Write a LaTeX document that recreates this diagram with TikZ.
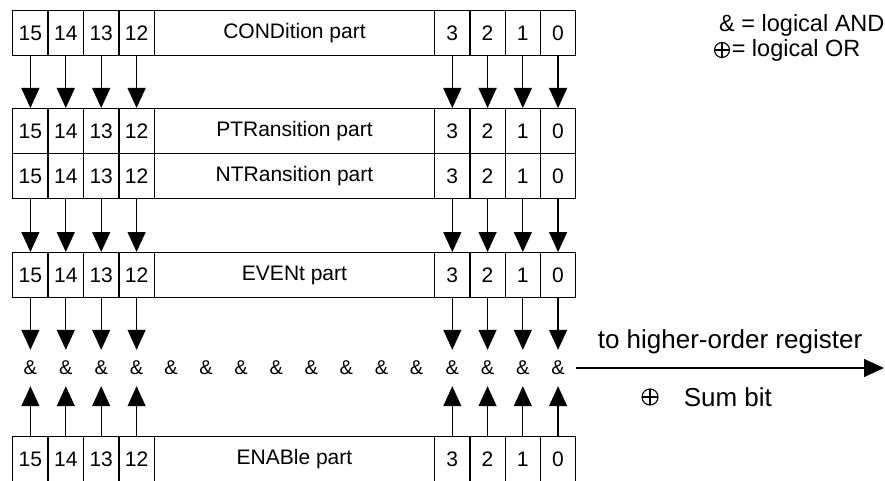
\documentclass[tikz,border=0pt]{standalone}
\usepackage{fontspec}
\setmainfont{Liberation Sans}
\usetikzlibrary{arrows.meta,positioning}

\tikzset{
  cell/.style={draw, line width=1.4pt, anchor=north west, minimum width=35.4pt, minimum height=45pt, inner sep=0pt, font=\fontsize{21}{25}\selectfont},
  bitarrow/.style={line width=1.3pt, -{Triangle[width=18pt,length=20pt]}},
  andsym/.style={inner sep=0pt, minimum width=35pt, minimum height=36pt, font=\fontsize{20}{24}\selectfont},
  orsym/.style={circle, draw, line width=1.1pt, minimum size=#1, inner sep=0pt,
    path picture={\draw[line width=1.1pt] (path picture bounding box.north) -- (path picture bounding box.south)
      (path picture bounding box.west) -- (path picture bounding box.east);}},
  biglabel/.style={inner sep=0pt, font=\fontsize{26}{30}\selectfont},
  legend/.style={inner sep=0pt, anchor=west, font=\fontsize{23.5}{28}\selectfont},
}
\newcommand{\regrow}[3]{%
  \foreach \b [count=\i from 0] in {15,14,13,12}
    \node[cell] (#1-\b) at ({12+35.4*\i},#2) {\b};
  \node[cell, minimum width=280.4pt] (#1-mid) at (153.6,#2) {#3};
  \foreach \b [count=\i from 0] in {3,2,1,0}
    \node[cell, minimum width=35.25pt] (#1-\b) at ({434+35.25*\i},#2) {\b};
}

\begin{document}
\begin{tikzpicture}[x=1pt, y=-1pt]
\useasboundingbox (0,0) rectangle (885,481);
\regrow{con}{10}{CONDition part}
\regrow{ptr}{108}{PTRansition part}
\regrow{ntr}{153}{NTRansition part}
\regrow{eve}{252}{EVENt part}
\regrow{ena}{436}{ENABle part}

\foreach \b in {15,14,13,12,3,2,1,0} {
  \draw[bitarrow] (con-\b) -- (ptr-\b);
  \draw[bitarrow] (ntr-\b) -- (eve-\b);
}

\coordinate (androw) at (0,368);
\foreach \b in {15,14,13,12,3,2,1,0}
  \node[andsym] (and-\b) at (eve-\b |- androw) {\&};
\foreach \b in {11,...,4}
  \node[andsym] (and-\b) at ({135.9+35.08*(12-\b)},368) {\&};
\foreach \b in {15,14,13,12,3,2,1,0} {
  \draw[bitarrow] (eve-\b) -- (and-\b);
  \draw[bitarrow] (ena-\b) -- (and-\b);
}

\coordinate (regout) at (884,368);
\draw[bitarrow] (and-0) -- (regout);
\node[biglabel] (tohigher) at (730,342) {to higher-order register};
\node[orsym=16pt] (sumsym) at (650,397) {};
\node[biglabel, right=25pt of sumsym] (sumbit) {Sum bit};

\node[legend] (andkey) at (719,25) {\& = logical AND};
\node[orsym=15pt] (orsymkey) at (722,50) {};
\node[legend, right=1.5pt of orsymkey] (orkey) {= logical OR};
\end{tikzpicture}
\end{document}
